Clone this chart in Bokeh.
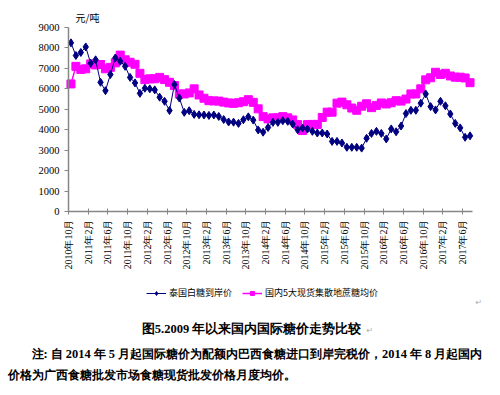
import math
from bokeh.plotting import figure
from bokeh.models import Range1d, FixedTicker, Label, Legend, LegendItem, ColumnDataSource
from bokeh.embed import file_html
from bokeh.resources import INLINE

tick_labels = ["2010年10月", "2011年2月", "2011年6月", "2011年10月", "2012年2月", "2012年6月",
               "2012年10月", "2013年2月", "2013年6月", "2013年10月", "2014年2月", "2014年6月",
               "2014年10月", "2015年2月", "2015年6月", "2015年10月", "2016年2月", "2016年6月",
               "2016年10月", "2017年2月", "2017年6月"]

thai_price = [8250, 7630, 7780, 8050, 7250, 7420, 6320, 5910, 6700, 7510,
              7350, 7100, 6560, 6290, 5780, 6030, 6000, 5950, 5590, 5390,
              4940, 6210, 5550, 4850, 4930, 4750, 4730, 4720, 4700, 4720,
              4650, 4500, 4380, 4370, 4310, 4490, 4630, 4470, 3990, 3880,
              4110, 4360, 4360, 4440, 4410, 4280, 4000, 4080, 4030, 3920,
              3840, 3840, 3790, 3430, 3430, 3350, 3140, 3140, 3140, 3100,
              3580, 3820, 3920, 3820, 3550, 4040, 3900, 4180, 4790, 4950,
              4950, 5300, 5750, 5130, 4970, 5390, 5170, 4770, 4310, 4090,
              3630, 3700]

domestic_price = [6240, 7100, 6950, 6980, 7220, 7170, 7190, 6980, 7050, 7270,
                  7650, 7420, 7300, 7200, 6760, 6450, 6490, 6490, 6560, 6450,
                  6320, 6160, 5750, 5750, 5800, 6000, 5700, 5540, 5420, 5410,
                  5400, 5350, 5310, 5290, 5320, 5370, 5470, 5340, 5020, 4640,
                  4530, 4580, 4580, 4640, 4580, 4480, 4250, 3960, 4250, 4260,
                  4260, 4600, 4860, 4860, 5300, 5350, 5220, 5060, 4950, 5150,
                  5270, 5080, 5190, 5310, 5260, 5320, 5420, 5400, 5500, 5750,
                  5750, 6000, 6440, 6540, 6810, 6700, 6760, 6630, 6570, 6570,
                  6530, 6300]

series_names = ["泰国白糖到岸价", "国内5大现货集散地蔗糖均价"]
y_ticks = [0, 1000, 2000, 3000, 4000, 5000, 6000, 7000, 8000, 9000]
y_max = 9000

n = len(thai_price)
xs = [i + 0.5 for i in range(n)]
src = ColumnDataSource(dict(x=xs, thai=thai_price, dom=domestic_price))

# page layout in pixels; the frame covers the whole canvas, the axes sit at fixed locations
W, H = 500, 395
AX_L, AX_R = 68, 472       # x-axis extent
AX_B, AX_T = 211, 27       # y-axis extent (0 .. 9000)
sx = n / (AX_R - AX_L)
sy = y_max / (AX_B - AX_T)

def xpx(px):
    return (px - AX_L) * sx
def ypx(py):
    return (AX_B - py) * sy

p = figure(width=W, height=H, output_backend="svg", toolbar_location=None,
           x_range=Range1d(xpx(0), xpx(W)), y_range=Range1d(ypx(H), ypx(0)),
           min_border=0, min_border_left=0, min_border_right=0,
           min_border_top=0, min_border_bottom=0)
p.outline_line_color = None
p.xgrid.visible = False
p.ygrid.visible = False

ax_color = "#868686"
serif = "Liberation Serif"

yax = p.yaxis[0]
yax.fixed_location = 0
yax.ticker = FixedTicker(ticks=y_ticks)
yax.bounds = (0, y_max)
yax.axis_line_color = ax_color
yax.axis_line_width = 1.5
yax.major_tick_line_color = ax_color
yax.major_tick_out = 4
yax.major_tick_in = 0
yax.minor_tick_line_color = None
yax.major_label_text_font = serif
yax.major_label_text_font_size = "10.5px"
yax.major_label_text_color = "black"
yax.major_label_standoff = 5

xax = p.xaxis[0]
xax.fixed_location = 0
xt = [4 * k for k in range(len(tick_labels))]
xax.ticker = FixedTicker(ticks=xt)
xax.bounds = (0, n)
xax.major_label_overrides = {t: lab for t, lab in zip(xt, tick_labels)}
xax.major_label_orientation = math.pi / 2
xax.axis_line_color = ax_color
xax.axis_line_width = 1.5
xax.major_tick_line_color = ax_color
xax.major_tick_out = 3
xax.major_tick_in = 3
xax.minor_tick_line_color = None
xax.major_label_text_font = serif
xax.major_label_text_font_size = "10px"
xax.major_label_text_color = "black"
xax.major_label_standoff = 5

pink = "#FF00FF"
navy = "#000080"
l2 = p.line("x", "dom", source=src, line_color=pink, line_width=1.5)
s2 = p.scatter("x", "dom", source=src, marker="square", size=8, fill_color=pink, line_color=pink)
l1 = p.line("x", "thai", source=src, line_color=navy, line_width=1)
s1 = p.scatter("x", "thai", source=src, marker="diamond", size=8, fill_color=navy, line_color=navy)

legend = Legend(items=[LegendItem(label=series_names[0], renderers=[l1, s1]),
                       LegendItem(label=series_names[1], renderers=[l2, s2])],
                orientation="horizontal", location=(146, 96),
                glyph_width=20, glyph_height=10, label_height=10, label_standoff=3,
                spacing=10, padding=0, margin=0,
                border_line_alpha=0, background_fill_alpha=0,
                label_text_font="Noto Sans CJK SC", label_text_font_size="9px",
                label_text_color="black")
p.add_layout(legend)

def add_label(txt, px, py, size, bold=False, align="left", font=serif, color="black"):
    p.add_layout(Label(x=xpx(px), y=ypx(py), text=txt, text_font=font, text_font_size=size,
                       text_font_style="bold" if bold else "normal", text_align=align,
                       text_baseline="middle", text_color=color))

add_label("元/吨", 75, 17, "10px", font="Noto Sans CJK SC")
add_label("↵", 475, 302, "8px", font="DejaVu Sans", color="#aaaaaa")
add_label("图5.2009 年以来国内国际糖价走势比较", 251, 328, "12.5px", bold=True, align="center")
add_label("↵", 366, 330, "8px", font="DejaVu Sans", color="#aaaaaa")
add_label("注: 自 2014 年 5 月起国际糖价为配额内巴西食糖进口到岸完税价，2014 年 8 月起国内",
          31, 353, "12.4px", bold=True)
add_label("价格为广西食糖批发市场食糖现货批发价格月度均价。", 7, 374, "12.4px", bold=True)

open("out.html", "w").write(file_html(p, INLINE))
